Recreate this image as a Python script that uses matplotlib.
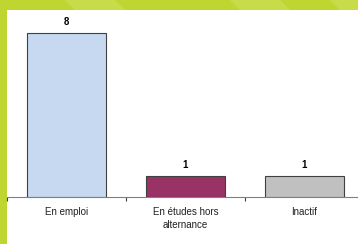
import matplotlib
matplotlib.use("Agg")
import matplotlib.pyplot as plt
from matplotlib.patches import Rectangle, Polygon

plt.rcParams["font.family"] = ["Liberation Sans", "DejaVu Sans"]

categories = ["En emploi", "En études hors\nalternance", "Inactif"]
values = [8, 1, 1]
colors = ["#c6d9f0", "#993366", "#c0c0c0"]

W, H = 358, 244
fig = plt.figure(figsize=(W/100, H/100), dpi=100)
fig.patch.set_facecolor("#c0d630")

# lighter diagonal stripes in the green frame
for x0 in [65, 230, 330]:
    fig.patches.append(Polygon([((x0)/W, 1), ((x0+50)/W, 1), ((x0+60)/W, (H-10)/H), ((x0+10)/W, (H-10)/H)],
                               closed=True, transform=fig.transFigure, facecolor="#c8dc4a", edgecolor="none", zorder=0))
# white panel
fig.patches.append(Rectangle((7/W, 0), (W-7)/W, (H-10)/H, transform=fig.transFigure,
                             facecolor="white", edgecolor="none", zorder=1))

ax = fig.add_axes([7/W, 47/H, 357/W, 187/H])
ax.set_facecolor("none")
ax.set_zorder(2)
x = list(range(len(categories)))
ax.bar(x, values, width=0.66, color=colors, edgecolor="#404040", linewidth=0.8, zorder=3)
for xi, v in zip(x, values):
    ax.text(xi, v + 0.3, str(v), ha="center", va="bottom", fontsize=7, fontweight="bold", color="black")

ax.set_xlim(-0.5, 2.5)
ax.set_ylim(0, 9.12)
ax.set_yticks([])
for s in ["top", "right", "left"]:
    ax.spines[s].set_visible(False)
ax.spines["bottom"].set_color("#808080")
ax.spines["bottom"].set_linewidth(0.8)

ax.set_xticks([-0.5, 0.5, 1.5], minor=False)
ax.set_xticklabels([])
ax.tick_params(axis="x", which="major", length=3, width=0.8, color="#404040", direction="out")
ax.set_xticks(x, minor=True)
ax.set_xticklabels(categories, minor=True, fontsize=7, color="#202020", linespacing=1.35)
ax.tick_params(axis="x", which="minor", length=0, pad=7)

fig.savefig("out.png", dpi=100, facecolor=fig.get_facecolor())
